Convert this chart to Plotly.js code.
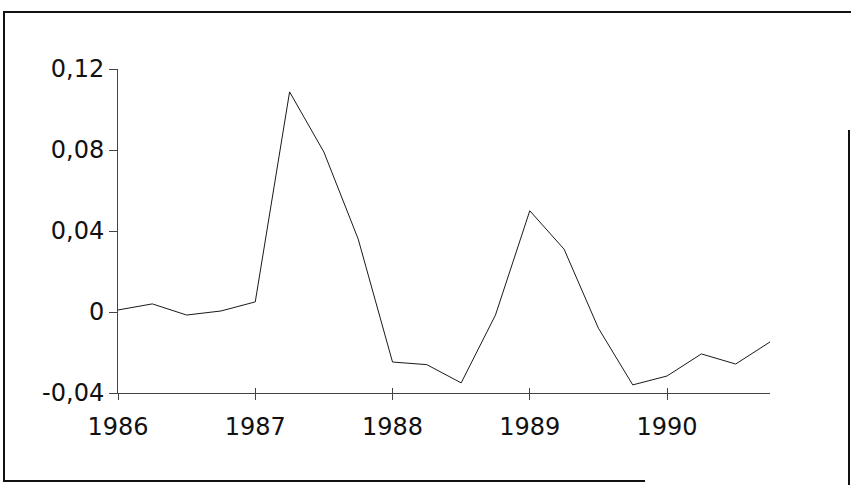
<!DOCTYPE html>
<html>
<head>
<meta charset="utf-8">
<script src="https://cdn.plot.ly/plotly-3.0.1.min.js"></script>
<style>
  html, body { margin: 0; padding: 0; background: #fff; }
  #wrap { position: relative; width: 851px; height: 485px; overflow: hidden; }
  #chart { position: absolute; left: 0; top: 0; width: 851px; height: 485px; }
  .fr { position: absolute; background: #111; }
</style>
</head>
<body>
<div id="wrap">
  <div id="chart"></div>
  <div class="fr" style="left:3px; top:11px; width:848px; height:2px;"></div>
  <div class="fr" style="left:3px; top:11px; width:2px; height:471px;"></div>
  <div class="fr" style="left:3px; top:480px; width:642px; height:2px;"></div>
  <div class="fr" style="left:848px; top:130px; width:2px; height:355px;"></div>
</div>
<script>
// Quarterly series, 1986 Q1 .. 1990 Q4
const quarters = [
  1986.00, 1986.25, 1986.50, 1986.75,
  1987.00, 1987.25, 1987.50, 1987.75,
  1988.00, 1988.25, 1988.50, 1988.75,
  1989.00, 1989.25, 1989.50, 1989.75,
  1990.00, 1990.25, 1990.50, 1990.75
];
const values = [
  0.001, 0.004, -0.0015, 0.0005,
  0.005, 0.1087, 0.079, 0.036,
  -0.0247, -0.026, -0.035, -0.0015,
  0.050, 0.031, -0.008, -0.036,
  -0.0316, -0.0207, -0.0257, -0.0148
];
const xTickVals = [1986, 1987, 1988, 1989, 1990];
const xTickText = ["1986", "1987", "1988", "1989", "1990"];
const yTickVals = [-0.04, 0, 0.04, 0.08, 0.12];
const yTickText = ["-0,04", "0", "0,04", "0,08", "0,12"];

const trace = {
  x: quarters,
  y: values,
  type: 'scatter',
  mode: 'lines',
  line: { color: '#1a1a1a', width: 1 },
  hoverinfo: 'skip'
};
// invisible companion trace so the overlaying tick axis is drawn
const tickCarrier = {
  x: quarters,
  y: values,
  xaxis: 'x2',
  type: 'scatter',
  mode: 'lines',
  line: { color: 'rgba(0,0,0,0)', width: 0 },
  hoverinfo: 'skip'
};

const layout = {
  width: 851,
  height: 485,
  margin: { l: 118, r: 81, t: 69, b: 92 },
  paper_bgcolor: '#ffffff',
  plot_bgcolor: '#ffffff',
  showlegend: false,
  font: { family: 'DejaVu Sans', size: 24, color: '#111' },
  xaxis: {
    range: [1986, 1990.75],
    tickvals: xTickVals,
    ticktext: xTickText,
    showgrid: false,
    zeroline: false,
    showline: true,
    linecolor: '#444',
    linewidth: 1,
    ticks: 'outside',
    ticklen: 6,
    tickcolor: '#444',
    tickwidth: 1,
    ticklabelstandoff: 6,
    tickfont: { family: 'DejaVu Sans', size: 24, color: '#111' }
  },
  xaxis2: {
    overlaying: 'x',
    anchor: 'y',
    side: 'bottom',
    range: [1986, 1990.75],
    tickvals: xTickVals,
    showticklabels: false,
    showgrid: false,
    zeroline: false,
    showline: false,
    ticks: 'inside',
    ticklen: 5,
    tickcolor: '#444',
    tickwidth: 1
  },
  yaxis: {
    range: [-0.04, 0.12],
    tickvals: yTickVals,
    ticktext: yTickText,
    showgrid: false,
    zeroline: false,
    showline: true,
    linecolor: '#444',
    linewidth: 1,
    ticks: 'outside',
    ticklen: 8,
    tickcolor: '#444',
    tickwidth: 1,
    tickfont: { family: 'DejaVu Sans', size: 24, color: '#111' }
  }
};

Plotly.newPlot('chart', [trace, tickCarrier], layout, { staticPlot: true, displayModeBar: false });
</script>
</body>
</html>
